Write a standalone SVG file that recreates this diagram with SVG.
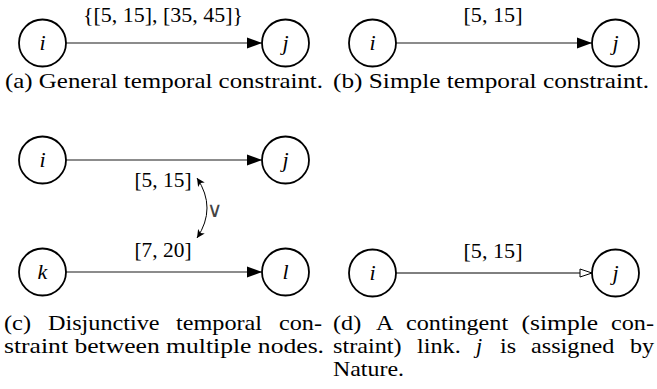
<svg xmlns="http://www.w3.org/2000/svg" width="657" height="389" viewBox="0 0 657 389">
<defs>
<style>
text{font-family:"Liberation Serif","Times New Roman","DejaVu Serif",serif}
.node{fill:#fff;stroke:#000;stroke-width:1.8}
.nl{font-style:italic;font-size:22px;text-anchor:middle}
.lab{font-size:22px;text-anchor:middle}
.or{font-family:"DejaVu Sans",sans-serif;font-weight:200;font-size:21px;text-anchor:middle;fill:#444}
.cap{font-size:22px}
.edge{stroke:#666;stroke-width:1.6;fill:none}
.edge2{stroke:#000;stroke-width:1;fill:none}
</style>
<marker id="ah" markerWidth="16" markerHeight="12" refX="15" refY="6" orient="auto" markerUnits="userSpaceOnUse">
<path d="M0,0.5 L15,6 L0,11.5 z" fill="#000"/>
</marker>
<marker id="oh" markerWidth="14" markerHeight="12" refX="13" refY="5" orient="auto" markerUnits="userSpaceOnUse">
<path d="M1,1 L13,5 L1,9 z" fill="#fff" stroke="#000" stroke-width="1"/>
</marker>
<marker id="sh" markerWidth="10" markerHeight="10" refX="8" refY="4" orient="auto" markerUnits="userSpaceOnUse">
<path d="M0,0 L8,4 L0,8 L2,4 z" fill="#000"/>
</marker>
<marker id="shs" markerWidth="10" markerHeight="10" refX="0" refY="4" orient="auto" markerUnits="userSpaceOnUse">
<path d="M8,0 L0,4 L8,8 L6,4 z" fill="#000"/>
</marker>
</defs>
<g id="connectors">
<line class="edge" x1="66" y1="43" x2="262" y2="43" marker-end="url(#ah)"/>
<line class="edge" x1="396" y1="43" x2="592" y2="43" marker-end="url(#ah)"/>
<line class="edge" x1="66" y1="160" x2="262" y2="160" marker-end="url(#ah)"/>
<line class="edge" x1="66" y1="272" x2="262" y2="272" marker-end="url(#ah)"/>
<line class="edge2" x1="396" y1="273" x2="592" y2="273" marker-end="url(#oh)"/>
<path class="edge2" d="M197,178 Q217,208 197,238" marker-start="url(#shs)" marker-end="url(#sh)"/>
</g>
<g id="labels">
<text class="lab" x="163" y="22" textLength="160" lengthAdjust="spacingAndGlyphs">{[5, 15], [35, 45]}</text>
<text class="lab" x="493" y="22" textLength="59" lengthAdjust="spacingAndGlyphs">[5, 15]</text>
<text class="lab" x="163" y="187" textLength="57" lengthAdjust="spacingAndGlyphs">[5, 15]</text>
<text class="lab" x="163" y="257" textLength="57" lengthAdjust="spacingAndGlyphs">[7, 20]</text>
<text class="lab" x="493" y="258" textLength="59" lengthAdjust="spacingAndGlyphs">[5, 15]</text>
<text class="or" x="214" y="217">∨</text>
</g>
<g id="a_i"><circle class="node" cx="42.5" cy="43" r="23.5"/><text class="nl" x="42.5" y="50">i</text></g>
<g id="a_j"><circle class="node" cx="285.5" cy="43" r="23.5"/><text class="nl" x="285.5" y="50">j</text></g>
<g id="b_i"><circle class="node" cx="372.5" cy="43" r="23.5"/><text class="nl" x="372.5" y="50">i</text></g>
<g id="b_j"><circle class="node" cx="615.5" cy="43" r="23.5"/><text class="nl" x="615.5" y="50">j</text></g>
<g id="c_i"><circle class="node" cx="42.5" cy="160" r="23.5"/><text class="nl" x="42.5" y="167">i</text></g>
<g id="c_j"><circle class="node" cx="285.5" cy="160" r="23.5"/><text class="nl" x="285.5" y="167">j</text></g>
<g id="c_k"><circle class="node" cx="42.5" cy="272" r="23.5"/><text class="nl" x="42.5" y="279">k</text></g>
<g id="c_l"><circle class="node" cx="285.5" cy="272" r="23.5"/><text class="nl" x="285.5" y="279">l</text></g>
<g id="d_i"><circle class="node" cx="372.5" cy="273" r="23.5"/><text class="nl" x="372.5" y="280">i</text></g>
<g id="d_j"><circle class="node" cx="615.5" cy="273" r="23.5"/><text class="nl" x="615.5" y="280">j</text></g>
<g id="captions">
<text class="cap" x="5" y="88" textLength="318" lengthAdjust="spacingAndGlyphs">(a) General temporal constraint.</text>
<text class="cap" x="333" y="88" textLength="316" lengthAdjust="spacingAndGlyphs">(b) Simple temporal constraint.</text>
<text class="cap" x="4" y="330" textLength="27" lengthAdjust="spacingAndGlyphs">(c)</text>
<text class="cap" x="48" y="330" textLength="111.6" lengthAdjust="spacingAndGlyphs">Disjunctive</text>
<text class="cap" x="176" y="330" textLength="86" lengthAdjust="spacingAndGlyphs">temporal</text>
<text class="cap" x="279" y="330" textLength="43" lengthAdjust="spacingAndGlyphs">con-</text>
<text class="cap" x="4" y="353" textLength="320" lengthAdjust="spacingAndGlyphs">straint between multiple nodes.</text>
<text class="cap" x="333" y="330" textLength="28.2" lengthAdjust="spacingAndGlyphs">(d)</text>
<text class="cap" x="376" y="330" textLength="17.5" lengthAdjust="spacingAndGlyphs">A</text>
<text class="cap" x="406" y="330" textLength="102.2" lengthAdjust="spacingAndGlyphs">contingent</text>
<text class="cap" x="521.5" y="330" textLength="76.6" lengthAdjust="spacingAndGlyphs">(simple</text>
<text class="cap" x="611" y="330" textLength="43" lengthAdjust="spacingAndGlyphs">con-</text>
<text class="cap" x="333" y="353" textLength="68.6" lengthAdjust="spacingAndGlyphs">straint)</text>
<text class="cap" x="417" y="353" textLength="43.7" lengthAdjust="spacingAndGlyphs">link.</text>
<text class="cap" x="476" y="353" font-style="italic">j</text>
<text class="cap" x="500" y="353" textLength="16.1" lengthAdjust="spacingAndGlyphs">is</text>
<text class="cap" x="531" y="353" textLength="83.3" lengthAdjust="spacingAndGlyphs">assigned</text>
<text class="cap" x="630" y="353" textLength="24.2" lengthAdjust="spacingAndGlyphs">by</text>
<text class="cap" x="333" y="376" textLength="71" lengthAdjust="spacingAndGlyphs">Nature.</text>
</g>
</svg>
